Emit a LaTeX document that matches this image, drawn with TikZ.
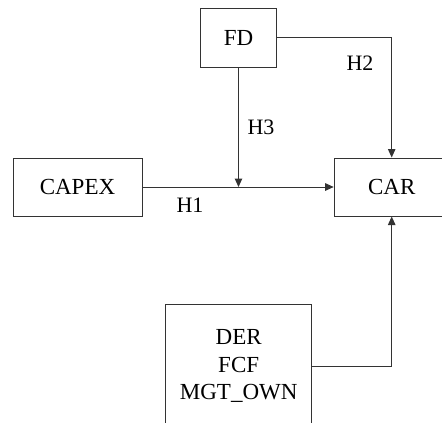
\documentclass[tikz,border=0pt]{standalone}
\usepackage{fontspec}
\setmainfont{Liberation Serif}
\usetikzlibrary{arrows.meta,positioning}
\tikzset{var/.style={draw=black!80,line width=1pt,rectangle,inner sep=0pt,text=black,
font=\fontsize{23}{27.5}\selectfont}}
\tikzstyle{arrow} = [draw=black!80, line width=1pt, -{Triangle[length=8.5pt,width=7.5pt]}]

\begin{document}
\begin{tikzpicture}[x=1pt,y=-1pt,
			lbl/.style={text=black,inner sep=0pt,font=\fontsize{22}{26}\selectfont}]
		\useasboundingbox (0,0) rectangle (442,423);
		\node[var,minimum width=76pt,minimum height=59pt] (fd) at (238.5,37.5) {FD};
		\node[var,minimum width=129pt,minimum height=58pt] (capex) at (77.5,187) {CAPEX};
		\node[var,minimum width=115pt,minimum height=58pt] (car) at (391.7,187) {CAR};
		\node[var,minimum width=146pt,minimum height=124pt,align=center] (ctrl) at (238.7,366) {DER\\FCF\\MGT\_OWN};

		\draw[arrow] (capex) -- (car);
		\draw[arrow] (fd) -- (fd |- capex.east);
		\draw[arrow] (fd.east) -| (car.north);
		\draw[arrow] (ctrl.east) -| (car.south);

		\node[lbl] (h1) at (190,205) {H1};
		\node[lbl] (h2) at (360,63) {H2};
		\node[lbl] (h3) at (261,127) {H3};
	\end{tikzpicture}
\end{document}
